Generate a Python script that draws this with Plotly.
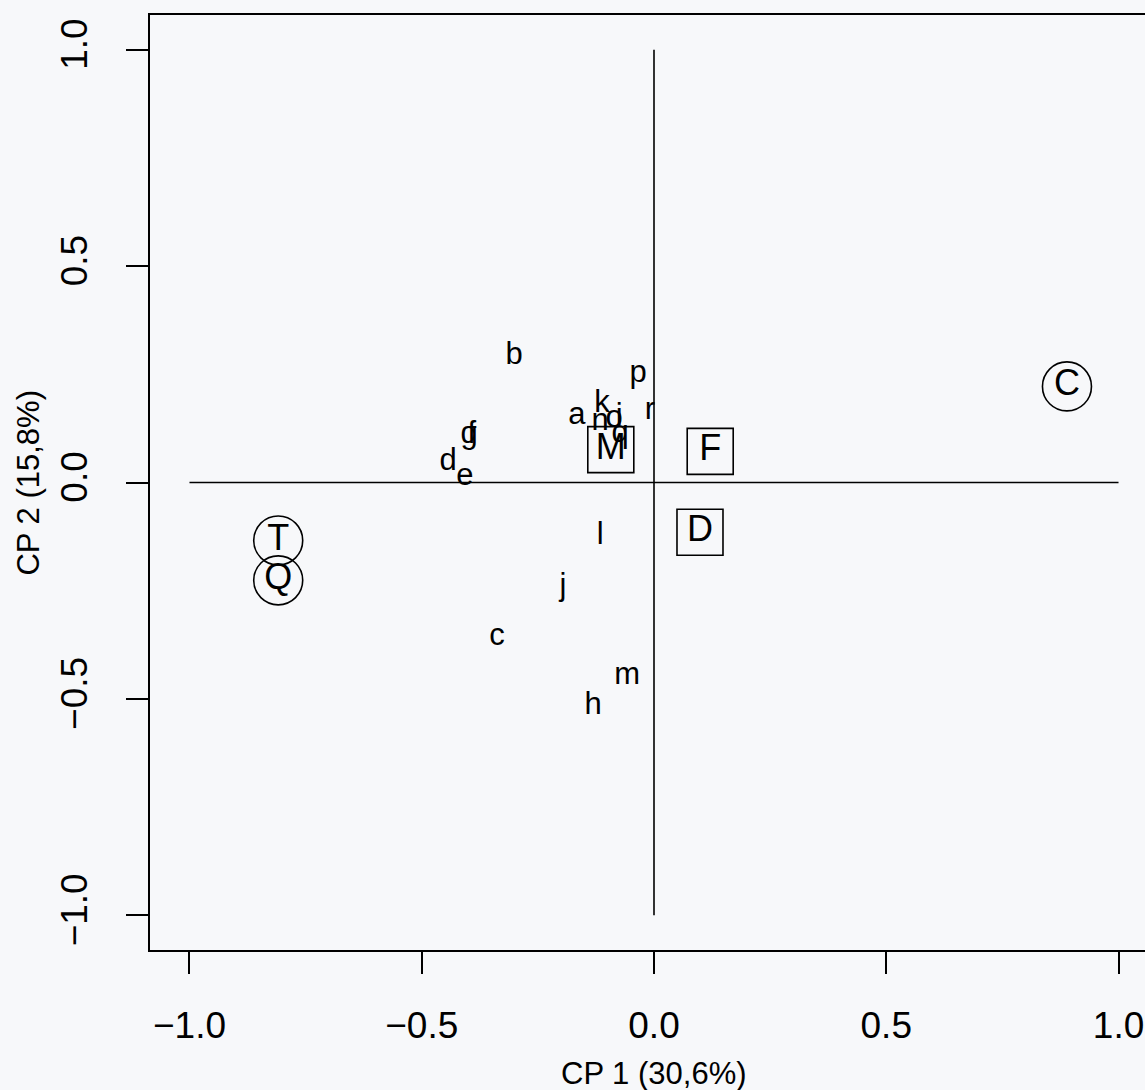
import plotly.graph_objects as go

# Variables (lowercase labels)
var_labels = ["a", "b", "c", "d", "e", "f", "g", "h", "i", "j", "k", "l", "m", "n", "o", "p", "q", "r"]
var_x = [-0.166, -0.301, -0.338, -0.443, -0.407, -0.392, -0.398, -0.131, -0.075, -0.196, -0.112, -0.116, -0.058, -0.116, -0.086, -0.034, -0.073, -0.009]
var_y = [0.154, 0.292, -0.357, 0.047, 0.013, 0.11, 0.11, -0.518, 0.15, -0.241, 0.18, -0.124, -0.447, 0.14, 0.145, 0.251, 0.112, 0.165]

# Supplementary (squares)
sq_labels = ["M", "F", "D"]
sq_x = [-0.093, 0.121, 0.099]
sq_y = [0.076, 0.072, -0.115]

# Supplementary (circles)
ci_labels = ["C", "T", "Q"]
ci_x = [0.889, -0.809, -0.809]
ci_y = [0.222, -0.134, -0.226]

tick_vals = [-1.0, -0.5, 0.0, 0.5, 1.0]
x_title = "CP 1 (30,6%)"
y_title = "CP 2 (15,8%)"

FONT = "Liberation Sans, Arial, sans-serif"
BG = "#f7f8fa"

fig = go.Figure()

fig.add_trace(go.Scatter(
    x=var_x, y=var_y, text=var_labels, mode="text",
    textposition="middle center",
    textfont=dict(family=FONT, size=31, color="black"),
    showlegend=False, hoverinfo="skip"))

fig.add_trace(go.Scatter(
    x=sq_x, y=sq_y, text=sq_labels, mode="markers+text",
    textposition="middle center",
    marker=dict(symbol="square-open", size=46, color="black", line=dict(width=1.6, color="black")),
    textfont=dict(family=FONT, size=36, color="black"),
    showlegend=False, hoverinfo="skip"))

fig.add_trace(go.Scatter(
    x=ci_x, y=ci_y, text=ci_labels, mode="markers+text",
    textposition="middle center",
    marker=dict(symbol="circle-open", size=49, color="black", line=dict(width=1.6, color="black")),
    textfont=dict(family=FONT, size=36, color="black"),
    showlegend=False, hoverinfo="skip"))

fig.add_shape(type="line", x0=-1, x1=1, y0=0, y1=0, xref="x", yref="y",
              line=dict(color="black", width=1.6))
fig.add_shape(type="line", x0=0, x1=0, y0=-1, y1=1, xref="x", yref="y",
              line=dict(color="black", width=1.6))

fig.update_xaxes(range=[-1.085, 1.057], showgrid=False, zeroline=False,
                 showline=True, mirror=True, linecolor="black", linewidth=2,
                 ticks="outside", ticklen=22, tickwidth=1.6, tickcolor="black",
                 tickvals=tick_vals, tickformat=".1f", ticklabelstandoff=20,
                 tickfont=dict(family=FONT, size=37, color="black"))
fig.update_yaxes(range=[-1.08, 1.08], showgrid=False, zeroline=False,
                 showline=True, mirror=False, linecolor="black", linewidth=2,
                 ticks="outside", ticklen=22, tickwidth=1.6, tickcolor="black",
                 tickvals=tick_vals, tickformat=".1f", tickangle=-90, ticklabelstandoff=24,
                 tickfont=dict(family=FONT, size=37, color="black"))

fig.add_annotation(text=x_title, xref="x", yref="paper", x=0, y=-0.1316,
                   showarrow=False, xanchor="center", yanchor="middle",
                   font=dict(family=FONT, size=31, color="black"))
fig.add_annotation(text=y_title, xref="paper", yref="y", x=-0.1226, y=0,
                   showarrow=False, xanchor="center", yanchor="middle", textangle=-90,
                   font=dict(family=FONT, size=31, color="black"))

fig.update_layout(width=1145, height=1090,
                  margin=dict(l=150, r=0, t=15, b=140),
                  paper_bgcolor=BG, plot_bgcolor=BG)

fig.write_html("out.html", config={"displayModeBar": False},
               post_script="document.body.style.margin='0';document.body.style.overflow='hidden';")
